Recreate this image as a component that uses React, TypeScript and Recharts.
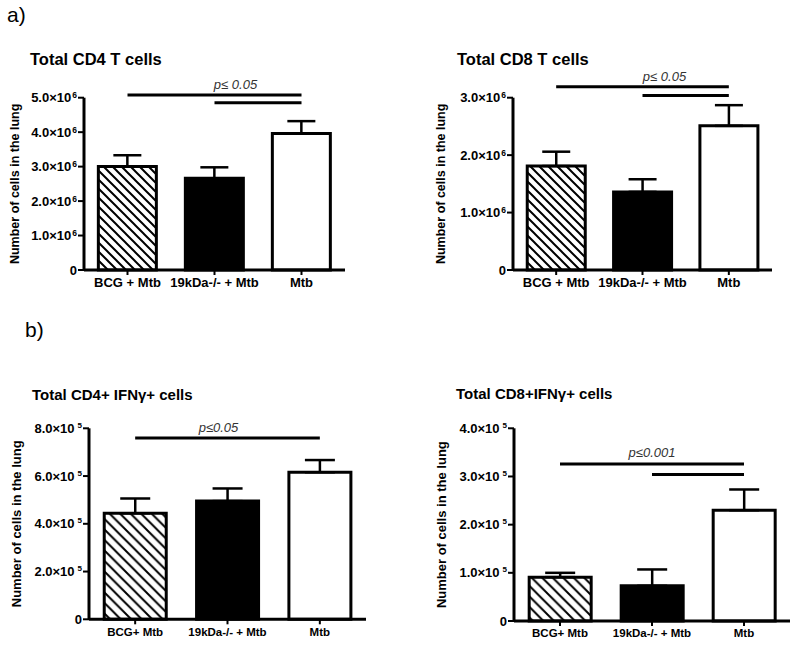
import React from 'react'
import { Bar, BarChart, Cell, ErrorBar, ReferenceLine, XAxis, YAxis } from 'recharts'

const FONT = '"Liberation Sans", Arial, Helvetica, sans-serif'

// group labels
const groupsTop = ['BCG + Mtb', '19kDa-/- + Mtb', 'Mtb']
const groupsBottom = ['BCG+ Mtb', '19kDa-/- + Mtb', 'Mtb']

// means and SEM
const cd4Mean = [3.0e6, 2.66e6, 3.96e6]
const cd4Sem = [0.33e6, 0.32e6, 0.36e6]
const cd8Mean = [1.81e6, 1.36e6, 2.51e6]
const cd8Sem = [0.25e6, 0.22e6, 0.36e6]
const cd4IfnMean = [4.44e5, 4.95e5, 6.16e5]
const cd4IfnSem = [0.62e5, 0.53e5, 0.51e5]
const cd8IfnMean = [0.91e5, 0.73e5, 2.3e5]
const cd8IfnSem = [0.09e5, 0.34e5, 0.43e5]

// y ticks
const cd4Ticks = [0, 1e6, 2e6, 3e6, 4e6, 5e6]
const cd8Ticks = [0, 1e6, 2e6, 3e6]
const cd4IfnTicks = [0, 2e5, 4e5, 6e5, 8e5]
const cd8IfnTicks = [0, 1e5, 2e5, 3e5, 4e5]

// significance bars: [from group, to group, level]
const cd4Sig: [number, number, number][] = [[0, 2, 5.08e6], [1, 2, 4.85e6]]
const cd8Sig: [number, number, number][] = [[0, 2, 3.19e6], [1, 2, 3.04e6]]
const cd4IfnSig: [number, number, number][] = [[0, 2, 7.59e5]]
const cd8IfnSig: [number, number, number][] = [[0, 2, 3.26e5], [1, 2, 3.04e5]]

const pLabels = ['p\u2264 0.05', 'p\u2264 0.05', 'p\u22640.05', 'p\u22640.001']

function makeYTick(fontSize: number, supSize: number, supGap: number, supRise: number) {
  return (props: any) => {
    const { x, y, payload } = props
    const v = payload.value as number
    const common = {
      x,
      y,
      dy: fontSize * 0.35,
      textAnchor: 'end' as const,
      fontSize,
      fontWeight: 'bold',
      fontFamily: FONT,
      fill: '#000',
    }
    if (v === 0) return <text {...common}>0</text>
    const exp = Math.floor(Math.log10(v) + 1e-9)
    const mant = (v / Math.pow(10, exp)).toFixed(1)
    return (
      <text {...common}>
        {mant}×10
        <tspan dx={supGap} dy={-supRise} fontSize={supSize}>
          {exp}
        </tspan>
      </text>
    )
  }
}

function makeXTick(fontSize: number) {
  return (props: any) => (
    <text
      x={props.x}
      y={props.y}
      dy={fontSize * 0.72}
      textAnchor="middle"
      fontSize={fontSize}
      fontWeight="bold"
      fontFamily={FONT}
      fill="#000"
    >
      {props.payload.value}
    </text>
  )
}

type Geo = {
  box: { left: number; top: number; width: number; height: number }
  plot: { left: number; right: number; top: number; bottom: number }
  xAxisHeight: number
  hatch: number
  cap: number
  yLabelOffset: number
  yLabelSize: number
  tickFont: number
  supSize: number
  supGap: number
  supRise: number
  xFont: number
  pShift: number
  pLift: number
}

function Panel({
  id,
  groups,
  means,
  sems,
  ticks,
  sig,
  pText,
  geo,
}: {
  id: string
  groups: string[]
  means: number[]
  sems: number[]
  ticks: number[]
  sig: [number, number, number][]
  pText: string
  geo: Geo
}) {
  const data = groups.map((g, i) => ({ group: g, mean: means[i], err: [0, sems[i]] }))
  const fills = [`url(#hatch-${id})`, '#000', '#fff']
  const { box, plot } = geo
  const margin = {
    top: plot.top - box.top,
    right: box.left + box.width - plot.right,
    left: 0,
    bottom: box.top + box.height - plot.bottom - geo.xAxisHeight,
  }

  const yLabel = (props: any) => {
    const vb = props.viewBox
    const cx = vb.x + vb.width - geo.yLabelOffset
    const cy = vb.y + vb.height / 2
    return (
      <text
        x={cx}
        y={cy}
        transform={`rotate(-90 ${cx} ${cy})`}
        textAnchor="middle"
        fontSize={geo.yLabelSize}
        fontWeight="bold"
        fontFamily={FONT}
        fill="#000"
      >
        Number of cells in the lung
      </text>
    )
  }

  const pLabel = (props: any) => {
    const vb = props.viewBox
    return (
      <text
        x={vb.x + vb.width / 2 + geo.pShift}
        y={vb.y - geo.pLift}
        textAnchor="middle"
        fontSize={13}
        fontStyle="italic"
        fontFamily={FONT}
        fill="#333"
      >
        {pText}
      </text>
    )
  }

  return (
    <div style={{ position: 'absolute', left: box.left, top: box.top }}>
      <BarChart width={box.width} height={box.height} data={data} margin={margin} barCategoryGap="16.5%">
        <defs>
          <pattern id={`hatch-${id}`} patternUnits="userSpaceOnUse" width={geo.hatch} height={geo.hatch}>
            <rect width={geo.hatch} height={geo.hatch} fill="#fff" />
            <path
              d={`M0,0 L${geo.hatch},${geo.hatch} M-1,${geo.hatch - 1} L1,${geo.hatch + 1} M${geo.hatch - 1},-1 L${geo.hatch + 1},1`}
              stroke="#000"
              strokeWidth={2}
            />
          </pattern>
        </defs>
        <XAxis
          dataKey="group"
          interval={0}
          height={geo.xAxisHeight}
          tickSize={5}
          tickMargin={3}
          axisLine={{ stroke: '#000', strokeWidth: 3 }}
          tickLine={{ stroke: '#000', strokeWidth: 2 }}
          tick={makeXTick(geo.xFont)}
        />
        <YAxis
          type="number"
          domain={[0, ticks[ticks.length - 1]]}
          ticks={ticks}
          interval={0}
          width={plot.left - box.left}
          tickSize={6}
          tickMargin={1}
          axisLine={{ stroke: '#000', strokeWidth: 3 }}
          tickLine={{ stroke: '#000', strokeWidth: 2 }}
          tick={makeYTick(geo.tickFont, geo.supSize, geo.supGap, geo.supRise)}
          label={yLabel}
        />
        <Bar dataKey="mean" isAnimationActive={false} stroke="#000" strokeWidth={3}>
          {data.map((d, i) => (
            <Cell key={d.group} fill={fills[i]} />
          ))}
          <ErrorBar dataKey="err" direction="y" width={geo.cap} stroke="#000" strokeWidth={2.5} isAnimationActive={false} />
        </Bar>
        {sig.map(([a, b, level], i) => (
          <ReferenceLine
            key={i}
            segment={[
              { x: groups[a], y: level },
              { x: groups[b], y: level },
            ]}
            stroke="#000"
            strokeWidth={3}
            ifOverflow="visible"
            label={i === 0 ? pLabel : undefined}
          />
        ))}
      </BarChart>
    </div>
  )
}

const baseTop = {
  xAxisHeight: 30,
  hatch: 9,
  cap: 14,
  yLabelSize: 12.5,
  tickFont: 13,
  supSize: 8.5,
  supGap: 1,
  supRise: 4,
  xFont: 13,
}

const baseBottom = {
  xAxisHeight: 26,
  hatch: 10.5,
  cap: 15,
  yLabelSize: 13,
  tickFont: 13,
  supSize: 8,
  supGap: 3,
  supRise: 5,
  xFont: 11.5,
}

const geoA: Geo = {
  ...baseTop,
  box: { left: 0, top: 0, width: 400, height: 310 },
  plot: { left: 84, right: 345, top: 97.7, bottom: 270 },
  yLabelOffset: 65,
  pShift: 21,
  pLift: 6,
}
const geoB: Geo = {
  ...baseTop,
  box: { left: 400, top: 0, width: 400, height: 310 },
  plot: { left: 513, right: 772, top: 97.7, bottom: 270 },
  yLabelOffset: 68,
  pShift: 22,
  pLift: 6,
}
const geoC: Geo = {
  ...baseBottom,
  box: { left: 0, top: 320, width: 400, height: 327 },
  plot: { left: 89, right: 366, top: 428.3, bottom: 619.3 },
  yLabelOffset: 68,
  pShift: -9,
  pLift: 6.5,
}
const geoD: Geo = {
  ...baseBottom,
  box: { left: 400, top: 320, width: 400, height: 327 },
  plot: { left: 514, right: 790, top: 428.3, bottom: 621 },
  yLabelOffset: 68,
  pShift: 0,
  pLift: 7,
}

function Caption({ text, left, baseline, size, bold }: { text: string; left: number; baseline: number; size: number; bold?: boolean }) {
  return (
    <div
      style={{
        position: 'absolute',
        left,
        top: baseline - size * 0.8465,
        fontSize: size,
        lineHeight: 1,
        fontWeight: bold ? 'bold' : 'normal',
        whiteSpace: 'nowrap',
        color: '#000',
      }}
    >
      {text}
    </div>
  )
}

export default function App() {
  return (
    <div
      style={{
        position: 'absolute',
        left: 0,
        top: 0,
        width: 800,
        height: 647,
        background: '#fff',
        fontFamily: FONT,
        overflow: 'hidden',
      }}
    >
      <Caption text="a)" left={7} baseline={21.5} size={21} />
      <Caption text="b)" left={25} baseline={337} size={21} />
      <Caption text="Total CD4 T cells" left={30} baseline={65} size={16.5} bold />
      <Caption text="Total CD8 T cells" left={457} baseline={65} size={16.5} bold />
      <Caption text="Total CD4+ IFNγ+ cells" left={32} baseline={400} size={15} bold />
      <Caption text="Total CD8+IFNγ+ cells" left={456} baseline={399} size={15} bold />
      <Panel id="a" groups={groupsTop} means={cd4Mean} sems={cd4Sem} ticks={cd4Ticks} sig={cd4Sig} pText={pLabels[0]} geo={geoA} />
      <Panel id="b" groups={groupsTop} means={cd8Mean} sems={cd8Sem} ticks={cd8Ticks} sig={cd8Sig} pText={pLabels[1]} geo={geoB} />
      <Panel id="c" groups={groupsBottom} means={cd4IfnMean} sems={cd4IfnSem} ticks={cd4IfnTicks} sig={cd4IfnSig} pText={pLabels[2]} geo={geoC} />
      <Panel id="d" groups={groupsBottom} means={cd8IfnMean} sems={cd8IfnSem} ticks={cd8IfnTicks} sig={cd8IfnSig} pText={pLabels[3]} geo={geoD} />
    </div>
  )
}
